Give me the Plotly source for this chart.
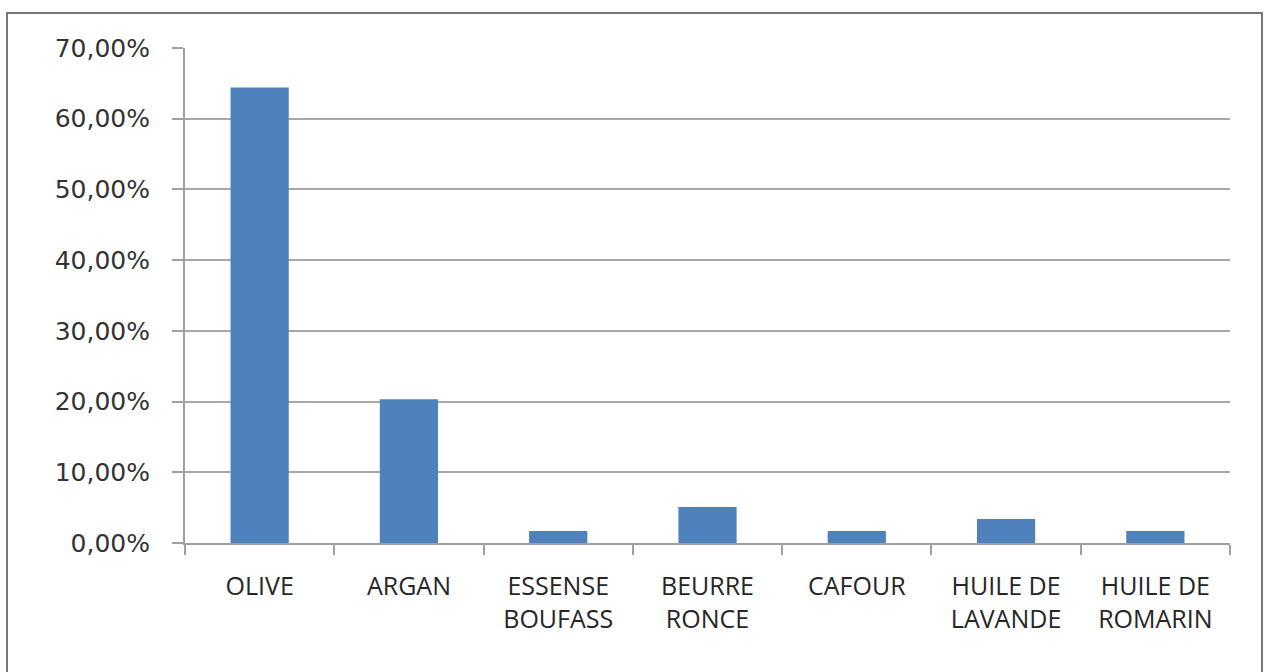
import plotly.graph_objects as go

categories = ["OLIVE", "ARGAN", "ESSENSE<br>BOUFASS", "BEURRE<br>RONCE", "CAFOUR",
              "HUILE DE<br>LAVANDE", "HUILE DE<br>ROMARIN"]
values = [0.6441, 0.2034, 0.0169, 0.0508, 0.0169, 0.0339, 0.0169]
y_ticks = [0, 0.1, 0.2, 0.3, 0.4, 0.5, 0.6, 0.7]

fig = go.Figure(go.Bar(x=categories, y=values, marker=dict(color="#4F81BD", line=dict(width=0))))

L, R, T, B = 185, 34, 48, 129
W, H = 1264, 672
pw, ph = W - L - R, H - T - B

fig.update_layout(
    width=W, height=H,
    margin=dict(l=L, r=R, t=T, b=B),
    paper_bgcolor="white", plot_bgcolor="white",
    separators=", ",
    bargap=0.61,
    showlegend=False,
    font=dict(family="DejaVu Sans", color="#222222"),
    xaxis=dict(
        tickson="boundaries", ticks="outside", ticklen=10, tickcolor="#a0a0a0", tickwidth=2,
        showline=True, linecolor="#a0a0a0", linewidth=2,
        tickfont=dict(family="Open Sans", size=25, color="#262626"),
        ticklabelstandoff=20,
        showgrid=False,
    ),
    yaxis=dict(
        range=[0, 0.7], tickvals=y_ticks, tickformat=".2%",
        ticks="outside", ticklen=11, tickcolor="#a0a0a0", tickwidth=2,
        showline=True, linecolor="#a0a0a0", linewidth=2,
        gridcolor="#a8a8a8", gridwidth=2,
        tickfont=dict(family="DejaVu Sans", size=25, color="#333333"),
        ticklabelstandoff=17, zeroline=False,
    ),
    shapes=[dict(type="rect", xref="paper", yref="paper",
                 x0=(7 - L) / pw, x1=(1262 - L) / pw,
                 y0=-(H + 10 - (H - B)) / ph,
                 y1=1 + (T - 13) / ph,
                 line=dict(color="#777777", width=2))],
)

fig.write_html("out.html", config={"displayModeBar": False},
               post_script="document.body.style.margin='0';document.body.style.overflow='hidden';")
